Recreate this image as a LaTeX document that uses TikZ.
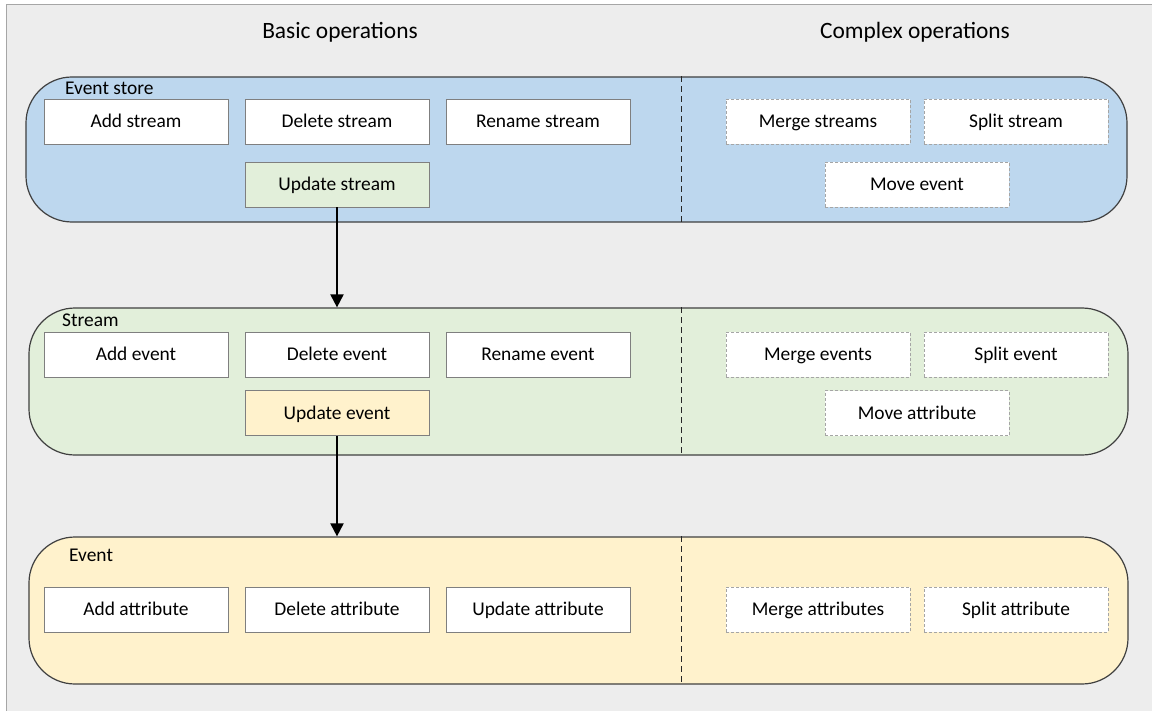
\documentclass[tikz,border=0pt]{standalone}
\usepackage{fontspec}
\setmainfont{Carlito}
\usetikzlibrary{arrows.meta}

\definecolor{bggray}{HTML}{EDEDED}
\definecolor{framegray}{HTML}{A6A6A6}
\definecolor{storeblue}{HTML}{BDD7EE}
\definecolor{streamgreen}{HTML}{E2EFDA}
\definecolor{eventyellow}{HTML}{FFF2CC}
\definecolor{bandline}{HTML}{404040}
\definecolor{opline}{HTML}{7F7F7F}
\definecolor{cxline}{HTML}{A5A5A5}

\tikzset{
    band/.style={draw=bandline, line width=1.2bp, rounded corners=46bp, inner sep=0pt},
    basicop/.style={draw=opline, line width=0.9bp, fill=white, minimum width=184bp, minimum height=45bp, inner sep=0pt,
        text height=14.5bp, text depth=1.9bp, font=\fontsize{19.5}{22}\selectfont},
    complexop/.style={basicop, draw=cxline, dash pattern=on 3bp off 2bp},
    bandlabel/.style={anchor=west, inner sep=0pt, text height=14.5bp, text depth=1.9bp, font=\fontsize{19.5}{22}\selectfont},
    title/.style={inner sep=0pt, text height=17bp, text depth=2bp, font=\fontsize{23.5}{26}\selectfont},
    divider/.style={draw=black!85, line width=1bp, dash pattern=on 6bp off 4bp},
    flow/.style={-{Triangle[width=13bp,length=13bp]}, line width=2bp}
}

\begin{document}
\begin{tikzpicture}[x=1bp, y=-1bp]
    \useasboundingbox (0,0) rectangle (1152,711);
    \fill[bggray] (6,5) rectangle (1152,711);
    \draw[framegray, line width=1bp] (6,711) -- (6,5) -- (1152,5);

    % Titles
    \node[title] at (340, 31) (basic)   {Basic operations};
    \node[title] at (915, 31) (complex) {Complex operations};

    % Bands
    \node[band, fill=storeblue,   minimum width=1101bp, minimum height=145bp] at (576.5, 149.5) (store)  {};
    \node[band, fill=streamgreen, minimum width=1099bp, minimum height=147bp] at (578.5, 381.5) (stream) {};
    \node[band, fill=eventyellow, minimum width=1099bp, minimum height=147bp] at (578.5, 610.5) (event)  {};

    \coordinate (split) at (681.5, 0);
    \draw[divider] (store.north -| split)  -- (store.south -| split);
    \draw[divider] (stream.north -| split) -- (stream.south -| split);
    \draw[divider] (event.north -| split)  -- (event.south -| split);

    \node[bandlabel] at (65, 88.5)  (storelabel)  {Event store};
    \node[bandlabel] at (62, 320.5) (streamlabel) {Stream};
    \node[bandlabel] at (69, 555.5) (eventlabel)  {Event};

    % Event store operations
    \node[basicop] at (136, 121.5) (addstream)    {Add stream};
    \node[basicop] at (337, 121.5) (delstream)    {Delete stream};
    \node[basicop] at (538, 121.5) (renstream)    {Rename stream};
    \node[basicop, fill=streamgreen] at (337, 184.5) (updstream) {Update stream};
    \node[complexop] at (818, 121.5)  (mergestreams) {Merge streams};
    \node[complexop] at (1016, 121.5) (splitstream)  {Split stream};
    \node[complexop] at (917, 184.5)  (moveevent)    {Move event};

    % Stream operations
    \node[basicop] at (136, 354.5) (addevent)     {Add event};
    \node[basicop] at (337, 354.5) (delevent)     {Delete event};
    \node[basicop] at (538, 354.5) (renevent)     {Rename event};
    \node[basicop, fill=eventyellow] at (337, 413) (updevent) {Update event};
    \node[complexop] at (818, 354.5)  (mergeevents) {Merge events};
    \node[complexop] at (1016, 354.5) (splitevent)  {Split event};
    \node[complexop] at (917, 413)    (moveattr)    {Move attribute};

    % Event operations
    \node[basicop] at (136, 609.5) (addattr)     {Add attribute};
    \node[basicop] at (337, 609.5) (delattr)     {Delete attribute};
    \node[basicop] at (538, 609.5) (updattr)     {Update attribute};
    \node[complexop] at (818, 609.5)  (mergeattrs) {Merge attributes};
    \node[complexop] at (1016, 609.5) (splitattr)  {Split attribute};

    \draw[flow] (updstream.south) -- (updstream.south |- stream.north);
    \draw[flow] (updevent.south)  -- (updevent.south |- event.north);
\end{tikzpicture}
\end{document}
